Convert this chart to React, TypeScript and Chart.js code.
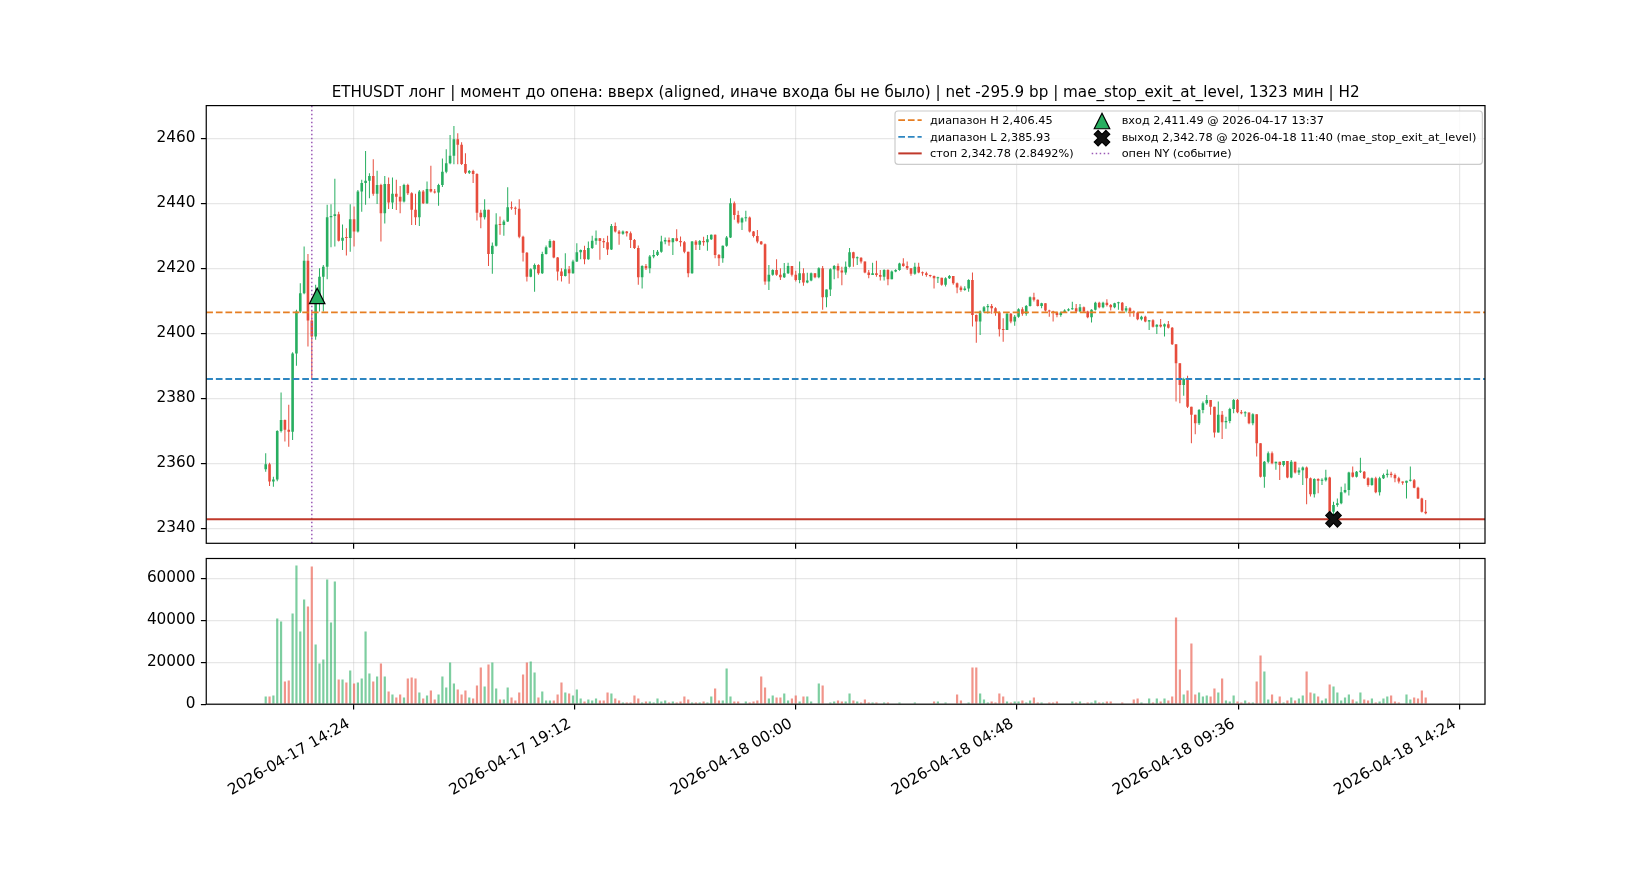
import React, { useRef, useEffect } from 'react'
import Chart from 'chart.js/auto'

// ETHUSDT 5m candles, first candle 2026-04-17 12:30, times in minutes from 2026-04-17 00:00
const START_MIN = 750
const STEP_MIN = 5
const FIRST_OPEN = 2358.2

const CLOSES = [
	2359.7, 2354.4, 2355.0, 2369.9, 2373.3, 2370.3, 2369.7, 2393.8, 2406.7, 2412.3,
	2422.3, 2403.9, 2399.0, 2409.2, 2417.4, 2420.5, 2435.7, 2436.1, 2436.6, 2428.5,
	2429.4, 2429.3, 2435.1, 2431.3, 2443.6, 2446.2, 2446.9, 2448.4, 2442.9, 2445.6,
	2436.9, 2445.9, 2440.2, 2442.9, 2442.0, 2440.5, 2445.6, 2443.1, 2438.0, 2435.7,
	2443.6, 2440.0, 2444.4, 2443.6, 2443.3, 2445.6, 2449.7, 2452.3, 2454.6, 2459.7,
	2458.0, 2452.1, 2449.4, 2449.9, 2449.0, 2437.1, 2435.7, 2438.0, 2424.4, 2426.9,
	2433.5, 2433.3, 2434.4, 2438.8, 2438.5, 2438.3, 2429.7, 2424.8, 2417.4, 2419.7,
	2421.0, 2418.5, 2424.4,
	2426.5, 2428.4, 2423.3, 2419.0, 2417.6, 2419.7, 2418.5, 2422.1, 2424.9, 2425.6,
	2422.8, 2426.2, 2428.5, 2429.2, 2428.4, 2428.0, 2425.8, 2433.0, 2431.3, 2430.6,
	2431.3, 2430.8, 2428.7, 2426.2, 2417.2, 2420.7, 2420.0, 2423.6, 2424.1, 2425.1,
	2428.2, 2428.7, 2428.0, 2429.2, 2428.4, 2428.0, 2425.1, 2418.5, 2428.2, 2427.2,
	2428.4, 2428.0, 2428.9, 2430.3, 2424.1, 2423.1, 2426.9, 2429.5, 2440.0, 2436.4,
	2434.1, 2435.4, 2435.6, 2431.3, 2429.9, 2428.2, 2427.4, 2415.9, 2418.0, 2419.5,
	2418.0, 2417.2, 2418.5, 2420.7, 2418.0, 2416.4, 2418.5, 2415.6, 2416.2, 2418.5,
	2417.2, 2420.0, 2411.1, 2413.5,
	2419.7, 2420.7, 2419.3, 2418.7, 2420.5, 2424.9, 2423.1, 2423.2, 2422.1, 2418.7,
	2417.9, 2418.5, 2417.9, 2417.4, 2419.5, 2416.6, 2419.0, 2419.5, 2421.5, 2420.7,
	2420.0, 2418.3, 2420.5, 2418.7, 2418.5, 2417.9, 2417.6, 2416.9, 2417.1, 2414.9,
	2416.9, 2417.6, 2415.4, 2414.1, 2413.3, 2413.8, 2416.4, 2405.6, 2403.6, 2406.7,
	2408.0, 2408.4, 2407.7, 2406.4, 2401.2, 2401.0, 2406.0, 2403.6, 2405.1, 2407.4,
	2406.0, 2408.4, 2411.1, 2410.3, 2408.4, 2409.2, 2407.0, 2406.7, 2406.4, 2405.6,
	2406.4, 2407.0, 2407.4, 2407.7, 2406.7, 2408.0, 2406.7, 2404.9, 2407.2, 2409.4,
	2408.0, 2409.4, 2408.7, 2408.0, 2409.2, 2409.4, 2407.0,
	2407.7, 2406.7, 2406.4, 2404.3, 2405.1, 2403.6, 2404.0, 2402.0, 2402.6, 2402.1,
	2402.8, 2401.7, 2396.6, 2390.8, 2384.1, 2385.9, 2377.4, 2374.9, 2372.3, 2376.4,
	2378.5, 2379.5, 2377.4, 2369.5, 2374.9, 2372.6, 2373.0, 2376.7, 2379.5, 2375.7,
	2375.4, 2375.6, 2372.3, 2375.1, 2366.2, 2355.9, 2360.5, 2363.1, 2360.0, 2360.5,
	2359.5, 2360.7, 2355.6, 2360.5, 2357.2, 2357.9, 2358.7, 2355.4, 2350.5, 2355.2,
	2354.6, 2354.8, 2355.6, 2345.1, 2347.2, 2347.7, 2351.1, 2351.8, 2357.2, 2355.9,
	2357.4, 2357.4, 2355.4, 2353.3, 2355.4, 2351.1, 2355.4, 2356.4, 2356.8, 2356.4,
	2355.4, 2354.4, 2354.0, 2354.6, 2354.8, 2352.5, 2349.2, 2345.1, 2344.6,
]

const HIGHS = [
	2363.1, 2360.2, 2355.9, 2370.2, 2381.8, 2373.5, 2378.0, 2394.2, 2407.2, 2415.4,
	2426.7, 2424.4, 2407.0, 2414.9, 2420.0, 2421.0, 2439.5, 2439.7, 2447.5, 2437.4,
	2433.5, 2432.3, 2439.7, 2439.0, 2444.1, 2447.2, 2456.1, 2449.2, 2453.5, 2450.0,
	2446.0, 2448.4, 2447.9, 2447.9, 2447.2, 2445.3, 2446.0, 2446.0, 2443.4, 2442.9,
	2444.1, 2444.1, 2446.7, 2451.5, 2444.4, 2446.0, 2453.8, 2456.6, 2461.0, 2463.8,
	2461.5, 2458.8, 2455.4, 2450.2, 2450.3, 2449.2, 2438.0, 2441.2, 2438.0, 2427.9,
	2436.9, 2435.9, 2434.9, 2444.9, 2440.5, 2439.0, 2441.2, 2430.0, 2425.0, 2420.0,
	2421.5, 2421.2, 2425.1,
	2427.0, 2428.9, 2428.6, 2423.5, 2420.0, 2424.6, 2420.7, 2422.6, 2427.7, 2425.8,
	2426.9, 2428.2, 2430.0, 2431.6, 2429.3, 2429.2, 2430.0, 2433.6, 2434.1, 2431.8,
	2431.6, 2431.5, 2431.3, 2429.0, 2427.0, 2420.9, 2421.3, 2424.1, 2425.6, 2425.6,
	2430.0, 2429.5, 2429.5, 2429.3, 2432.0, 2429.8, 2428.4, 2425.1, 2428.4, 2428.7,
	2428.7, 2429.7, 2430.2, 2430.4, 2430.4, 2424.4, 2427.0, 2429.9, 2441.5, 2440.5,
	2437.7, 2435.7, 2437.7, 2435.9, 2431.5, 2431.8, 2428.4, 2427.6, 2421.0, 2419.7,
	2422.8, 2420.0, 2421.6, 2421.7, 2420.7, 2419.2, 2422.1, 2420.0, 2418.6, 2418.7,
	2418.5, 2420.3, 2420.7, 2413.5,
	2420.0, 2421.0, 2421.5, 2420.5, 2422.1, 2426.2, 2425.1, 2423.6, 2423.4, 2422.1,
	2419.5, 2421.7, 2422.3, 2419.5, 2419.7, 2419.7, 2419.3, 2419.7, 2421.7, 2423.1,
	2422.1, 2420.0, 2421.7, 2421.7, 2419.0, 2418.9, 2418.0, 2417.8, 2417.4, 2417.1,
	2417.2, 2417.9, 2417.6, 2415.6, 2414.6, 2414.5, 2416.6, 2418.7, 2405.8, 2407.0,
	2408.4, 2409.0, 2409.0, 2408.0, 2406.7, 2404.6, 2406.2, 2406.2, 2405.6, 2407.7,
	2408.0, 2408.7, 2411.3, 2412.5, 2410.4, 2409.4, 2409.2, 2407.2, 2406.9, 2406.6,
	2406.7, 2407.4, 2407.7, 2409.7, 2409.0, 2409.0, 2408.2, 2406.9, 2407.4, 2409.7,
	2409.7, 2409.7, 2410.5, 2409.0, 2409.4, 2409.7, 2409.6,
	2408.4, 2408.0, 2407.0, 2406.6, 2405.4, 2405.4, 2404.1, 2404.3, 2402.8, 2404.4,
	2403.0, 2403.8, 2401.9, 2396.6, 2390.8, 2386.3, 2386.9, 2377.4, 2374.9, 2376.7,
	2379.0, 2381.0, 2379.5, 2377.4, 2379.0, 2376.1, 2374.3, 2377.1, 2379.8, 2379.8,
	2376.4, 2376.0, 2375.6, 2375.4, 2375.1, 2366.2, 2360.7, 2363.6, 2363.6, 2360.5,
	2360.5, 2360.7, 2360.7, 2361.0, 2360.2, 2358.7, 2359.0, 2359.0, 2355.6, 2355.4,
	2355.4, 2355.4, 2358.0, 2355.9, 2348.2, 2349.2, 2352.8, 2353.8, 2357.4, 2359.0,
	2357.6, 2361.7, 2357.6, 2355.7, 2355.6, 2355.9, 2355.9, 2356.9, 2358.1, 2357.4,
	2356.9, 2355.9, 2354.4, 2354.6, 2359.0, 2355.2, 2352.8, 2349.4, 2348.7,
]

const LOWS = [
	2357.4, 2353.0, 2352.8, 2354.5, 2369.5, 2366.7, 2365.1, 2367.2, 2390.0, 2406.2,
	2412.0, 2395.9, 2385.8, 2398.0, 2406.7, 2406.7, 2416.6, 2426.5, 2426.7, 2428.2,
	2425.6, 2423.9, 2425.1, 2426.7, 2431.0, 2437.4, 2439.5, 2441.5, 2442.3, 2439.8,
	2428.2, 2433.8, 2438.2, 2438.2, 2437.9, 2436.9, 2440.2, 2442.5, 2433.3, 2433.3,
	2433.0, 2439.8, 2439.8, 2443.3, 2443.0, 2439.2, 2445.0, 2449.2, 2452.0, 2452.0,
	2452.0, 2451.8, 2449.0, 2449.0, 2446.2, 2434.7, 2432.3, 2435.0, 2420.7, 2418.3,
	2426.7, 2430.3, 2430.0, 2434.2, 2438.0, 2436.5, 2429.2, 2422.1, 2415.9, 2417.2,
	2412.8, 2418.0, 2418.2,
	2424.2, 2426.2, 2423.1, 2416.2, 2415.9, 2417.5, 2415.2, 2418.3, 2421.9, 2422.8,
	2421.2, 2422.6, 2425.9, 2427.2, 2422.6, 2426.2, 2424.1, 2425.6, 2431.0, 2427.2,
	2430.3, 2429.8, 2426.2, 2425.9, 2414.9, 2413.8, 2419.5, 2418.5, 2423.1, 2423.8,
	2424.8, 2427.4, 2426.9, 2424.1, 2428.2, 2426.7, 2424.6, 2417.2, 2418.3, 2425.6,
	2425.6, 2426.9, 2425.4, 2428.7, 2423.1, 2420.7, 2421.7, 2426.6, 2429.3, 2434.9,
	2433.7, 2431.8, 2434.4, 2431.0, 2429.5, 2427.7, 2427.2, 2414.9, 2413.3, 2417.7,
	2417.7, 2416.4, 2417.0, 2418.2, 2417.5, 2415.9, 2415.4, 2414.6, 2415.4, 2416.0,
	2416.9, 2416.9, 2407.2, 2408.0,
	2411.5, 2416.6, 2416.9, 2414.8, 2418.0, 2420.2, 2420.5, 2421.0, 2421.5, 2418.5,
	2416.9, 2417.9, 2417.4, 2416.2, 2416.2, 2414.8, 2416.6, 2418.8, 2419.2, 2420.5,
	2419.5, 2417.7, 2418.0, 2418.5, 2417.7, 2417.4, 2417.2, 2413.8, 2415.5, 2414.6,
	2414.4, 2416.7, 2414.9, 2412.3, 2412.8, 2413.1, 2412.8, 2402.1, 2397.1, 2399.5,
	2406.2, 2406.1, 2406.0, 2405.4, 2399.0, 2397.4, 2401.0, 2403.1, 2402.3, 2404.8,
	2405.4, 2405.4, 2408.2, 2409.8, 2408.2, 2407.7, 2406.7, 2405.1, 2403.6, 2404.9,
	2405.1, 2406.2, 2406.8, 2407.2, 2406.4, 2406.5, 2406.4, 2404.6, 2403.3, 2407.0,
	2407.7, 2407.7, 2408.2, 2407.0, 2407.7, 2407.2, 2406.7,
	2406.4, 2405.1, 2405.1, 2404.0, 2403.9, 2403.4, 2401.0, 2401.8, 2399.8, 2401.8,
	2399.0, 2401.5, 2396.4, 2379.0, 2378.5, 2380.8, 2377.0, 2366.2, 2368.9, 2371.8,
	2375.4, 2378.0, 2374.9, 2367.9, 2369.5, 2367.5, 2370.6, 2372.3, 2375.4, 2375.4,
	2375.1, 2374.3, 2372.0, 2371.7, 2362.1, 2355.6, 2352.5, 2360.0, 2359.7, 2358.0,
	2354.9, 2359.0, 2355.4, 2355.4, 2356.9, 2356.4, 2353.3, 2347.4, 2349.8, 2349.5,
	2350.8, 2353.3, 2354.4, 2344.1, 2342.78, 2346.6, 2347.4, 2350.8, 2350.1, 2355.6,
	2355.6, 2357.0, 2355.2, 2352.8, 2353.1, 2350.8, 2350.1, 2355.2, 2355.6, 2355.6,
	2354.2, 2353.8, 2353.4, 2349.2, 2354.4, 2352.3, 2349.0, 2344.9, 2344.3,
]

const VOLUMES = [
	3650, 3650, 4130, 40790, 39360, 10790, 11270, 43170, 66020, 34600,
	49830, 46500, 65540, 28410, 19360, 21270, 59350, 38880, 58400, 11740,
	11740, 10320, 16030, 9840, 10320, 12220, 34600, 14600, 10790, 13170,
	19360, 13170, 6030, 4600, 3170, 4600, 3170, 12220, 12700, 12220,
	5550, 2700, 4130, 6510, 2220, 4600, 13170, 7940, 19840, 9840,
	6980, 4600, 6510, 3170, 2700, 8890, 17460, 8410, 18890, 19840,
	7460, 2220, 2220, 7940, 3170, 1750, 5550, 14120, 19840, 20310,
	15080, 3170, 6030, 1750, 1750, 1750, 4600, 10320, 5550, 5080,
	4130, 6980, 2700, 1270, 2220, 1750, 2700, 1750, 1750, 5550,
	5080, 2700, 1750, 790, 790, 790, 4130, 2700, 790,
	1270, 1270, 790, 2700, 1270, 1750, 790, 1270, 790, 1270,
	3650, 2220, 790, 790, 790, 1270, 790, 3650, 7460, 1750,
	1750, 16980, 3650, 1270, 1270, 320, 1270, 790, 1270, 1750,
	13170, 7940, 2700, 4130, 3170, 3170, 5080, 1750, 2700, 4130,
	1270, 3650, 3650, 1270, 320, 9840, 8890, 320, 790, 1270,
	1750, 1270, 1270, 5080, 1750, 1270, 790, 2220, 790, 790,
	790, 320, 790, 790, 320, 320, 790, 320, 320, 320,
	790, 320, 320, 320, 320, 1270, 1270, 320, 790, 320,
	320, 4600, 1750, 320, 790, 17460, 17460, 5080, 2220, 790,
	1270, 790, 5080, 3650, 1270, 790, 1270, 1270, 1750, 790,
	1750, 3170, 790, 790, 320, 790, 790, 1270, 320, 320,
	320, 1270, 790, 1270, 160, 790, 790, 1750, 790, 790,
	1270, 1270, 320, 320, 790, 320, 320, 2220, 2700, 790,
	320, 2700, 790, 2700, 1270, 2700, 1750, 3650, 41260, 16500,
	4600, 6510, 28880, 4600, 5550, 3650, 4130, 3650, 7460, 5550,
	12220, 1750, 1270, 4130, 1270, 790, 1750, 790, 790, 10790,
	23170, 15550, 2220, 4600, 1270, 3650, 790, 1750, 3170, 1750,
	2700, 4130, 15550, 5550, 5080, 3650, 1750, 2700, 9360, 8410,
	5550, 1750, 3170, 4600, 2220, 1270, 5550, 2220, 1750, 2700,
	790, 1270, 2700, 3650, 4130, 1270, 790, 320, 4600, 2220,
	3170, 2700, 6510, 3170,
]

const RANGE_HIGH = 2406.45
const RANGE_LOW = 2385.93
const STOP_PRICE = 2342.78
const ENTRY_MIN = 817 // 2026-04-17 13:37
const ENTRY_PRICE = 2411.49
const EXIT_MIN = 2140 // 2026-04-18 11:40
const EXIT_PRICE = 2342.78
const NY_OPEN_MIN = 810 // 13:30

const X_TICKS = [864, 1152, 1440, 1728, 2016, 2304]
const PRICE_TICKS = [2340, 2360, 2380, 2400, 2420, 2440, 2460]
const VOLUME_TICKS = [0, 20000, 40000, 60000]

const TITLE =
	'ETHUSDT лонг | момент до опена: вверх (aligned, иначе входа бы не было) | net -295.9 bp | mae_stop_exit_at_level, 1323 мин | H2'
const LEGEND_LEFT = ['диапазон H 2,406.45', 'диапазон L 2,385.93', 'стоп 2,342.78 (2.8492%)']
const LEGEND_RIGHT = [
	'вход 2,411.49 @ 2026-04-17 13:37',
	'выход 2,342.78 @ 2026-04-18 11:40 (mae_stop_exit_at_level)',
	'опен NY (событие)',
]

// view limits
const X_MIN = 672.6
const X_MAX = 2337.2
const PRICE_MIN = 2335.39
const PRICE_MAX = 2470.04
const VOLUME_MAX = 69400

const GREEN = '#27ae60'
const RED = '#e74c3c'
const GREEN_VOL = 'rgba(39,174,96,0.6)'
const RED_VOL = 'rgba(231,76,60,0.6)'
const ORANGE = '#e67e22'
const BLUE = '#2e86c1'
const STOP_RED = '#c0392b'
const PURPLE = '#9b59b6'
const GRID = 'rgba(176,176,176,0.3)'
const FONT = 'DejaVu Sans'
const TICK_SIZE = 15.3
const LEGEND_SIZE = 11.3
const DASHED = [6.7, 2.9]
const DOTTED = [1.5, 2.5]

Chart.defaults.font.family = FONT

const fmtTime = (m: number) => {
	const day = 17 + Math.floor(m / 1440)
	const mins = m % 1440
	const hh = String(Math.floor(mins / 60)).padStart(2, '0')
	const mm = String(Math.round(mins % 60)).padStart(2, '0')
	return `2026-04-${day} ${hh}:${mm}`
}

const drawTriangle = (ctx: CanvasRenderingContext2D, cx: number, cy: number, size: number) => {
	const h = size / 2
	ctx.save()
	ctx.beginPath()
	ctx.moveTo(cx, cy - h)
	ctx.lineTo(cx + h, cy + h)
	ctx.lineTo(cx - h, cy + h)
	ctx.closePath()
	ctx.fillStyle = GREEN
	ctx.fill()
	ctx.lineWidth = 1.2
	ctx.strokeStyle = '#000'
	ctx.lineJoin = 'miter'
	ctx.stroke()
	ctx.restore()
}

const drawCross = (ctx: CanvasRenderingContext2D, cx: number, cy: number, size: number) => {
	const pts = [
		[-1, -2], [0, -1], [1, -2], [2, -1], [1, 0], [2, 1],
		[1, 2], [0, 1], [-1, 2], [-2, 1], [-1, 0], [-2, -1],
	]
	const k = size / 4
	ctx.save()
	ctx.beginPath()
	pts.forEach(([px, py], i) => {
		if (i === 0) ctx.moveTo(cx + px * k, cy + py * k)
		else ctx.lineTo(cx + px * k, cy + py * k)
	})
	ctx.closePath()
	ctx.fillStyle = '#111'
	ctx.fill()
	ctx.lineWidth = 1.2
	ctx.strokeStyle = '#000'
	ctx.stroke()
	ctx.restore()
}

const drawLine = (
	ctx: CanvasRenderingContext2D,
	x1: number,
	x2: number,
	y: number,
	color: string,
	width: number,
	dash: number[],
) => {
	ctx.save()
	ctx.beginPath()
	ctx.setLineDash(dash)
	ctx.strokeStyle = color
	ctx.lineWidth = width
	ctx.moveTo(x1, y)
	ctx.lineTo(x2, y)
	ctx.stroke()
	ctx.restore()
}

const framePlugin = {
	id: 'frame',
	afterDraw(chart: any) {
		const { ctx, chartArea: a } = chart
		ctx.save()
		ctx.strokeStyle = '#000'
		ctx.lineWidth = 1.2
		ctx.strokeRect(a.left, a.top, a.right - a.left, a.bottom - a.top)
		ctx.restore()
	},
}

const overlayPlugin = {
	id: 'overlay',
	afterDraw(chart: any) {
		const { ctx, chartArea: a } = chart
		const xs = chart.scales.x
		const ys = chart.scales.y

		// entry / exit markers
		drawTriangle(ctx, xs.getPixelForValue(ENTRY_MIN), ys.getPixelForValue(ENTRY_PRICE), 15.5)
		drawCross(ctx, xs.getPixelForValue(EXIT_MIN), ys.getPixelForValue(EXIT_PRICE), 15.5)

		// title
		ctx.save()
		ctx.fillStyle = '#000'
		ctx.font = `15.2px "${FONT}"`
		ctx.textAlign = 'center'
		ctx.textBaseline = 'alphabetic'
		ctx.fillText(TITLE, (a.left + a.right) / 2, 96.5)
		ctx.restore()

		// legend
		ctx.save()
		ctx.font = `${LEGEND_SIZE}px "${FONT}"`
		const textL = 930
		const textR = 1121.7
		const rightWidth = Math.max(...LEGEND_RIGHT.map(t => ctx.measureText(t).width))
		const boxL = 895
		const boxT = 111
		const boxR = Math.max(1479.5, textR + rightWidth + 6)
		const boxB = 164.3
		ctx.beginPath()
		ctx.roundRect(boxL, boxT, boxR - boxL, boxB - boxT, 3)
		ctx.fillStyle = 'rgba(255,255,255,0.8)'
		ctx.fill()
		ctx.strokeStyle = '#cccccc'
		ctx.lineWidth = 1.2
		ctx.stroke()

		const baselines = [124.3, 140.8, 157.3]
		const mids = [120.2, 136.9, 153.4]
		drawLine(ctx, 898.3, 921.7, mids[0], ORANGE, 1.8, DASHED)
		drawLine(ctx, 898.3, 921.7, mids[1], BLUE, 1.8, DASHED)
		drawLine(ctx, 898.3, 921.7, mids[2], STOP_RED, 2, [])
		drawTriangle(ctx, 1102, 121, 15.5)
		drawCross(ctx, 1102, 138.2, 15.5)
		drawLine(ctx, 1091.7, 1111, mids[2], PURPLE, 1.5, DOTTED)

		ctx.fillStyle = '#000'
		ctx.textAlign = 'left'
		ctx.textBaseline = 'alphabetic'
		LEGEND_LEFT.forEach((t, i) => ctx.fillText(t, textL, baselines[i]))
		LEGEND_RIGHT.forEach((t, i) => ctx.fillText(t, textR, baselines[i]))
		ctx.restore()
	},
}

const noPadding = (s: any) => {
	s.paddingTop = 0
	s.paddingBottom = 0
	s.paddingLeft = 0
	s.paddingRight = 0
}

const xScale = (showLabels: boolean, height: number) => ({
	type: 'linear',
	min: X_MIN,
	max: X_MAX,
	offset: false,
	afterBuildTicks: (s: any) => {
		s.ticks = X_TICKS.map(v => ({ value: v }))
	},
	afterFit: (s: any) => {
		s.height = height
		noPadding(s)
	},
	grid: {
		color: GRID,
		lineWidth: 1.2,
		offset: false,
		drawTicks: true,
		tickLength: 5.35,
		tickColor: '#000',
		tickWidth: 1.2,
	},
	border: { display: false },
	ticks: {
		display: showLabels,
		autoSkip: false,
		minRotation: 30,
		maxRotation: 30,
		padding: 5.35,
		labelOffset: -4.5,
		color: '#000',
		font: { size: TICK_SIZE },
		callback: (v: number) => fmtTime(v),
	},
})

const yScale = (min: number, max: number, ticks: number[]) => ({
	type: 'linear',
	position: 'left',
	min,
	max,
	afterBuildTicks: (s: any) => {
		s.ticks = ticks.map(v => ({ value: v }))
	},
	afterFit: (s: any) => {
		s.width = 206.25
		noPadding(s)
	},
	grid: {
		color: GRID,
		lineWidth: 1.2,
		drawTicks: true,
		tickLength: 5.35,
		tickColor: '#000',
		tickWidth: 1.2,
	},
	border: { display: false },
	ticks: {
		autoSkip: false,
		padding: 5.35,
		color: '#000',
		font: { size: TICK_SIZE },
		callback: (v: number) => String(v),
	},
})

const App: React.FC = () => {
	const priceRef = useRef<HTMLCanvasElement | null>(null)
	const volumeRef = useRef<HTMLCanvasElement | null>(null)

	useEffect(() => {
		if (!priceRef.current || !volumeRef.current) return

		const times = CLOSES.map((_, i) => START_MIN + i * STEP_MIN)
		// contiguous 5m candles: each open is the previous close
		const opens = CLOSES.map((_, i) => (i === 0 ? FIRST_OPEN : CLOSES[i - 1]))
		const up = CLOSES.map((c, i) => c >= opens[i])

		const bodies = CLOSES.map((c, i) => ({
			x: times[i],
			y: [Math.min(opens[i], c), Math.max(opens[i], c)],
		}))
		const wicks = CLOSES.map((c, i) => ({
			x: times[i],
			y: [Math.min(LOWS[i], opens[i], c), Math.max(HIGHS[i], opens[i], c)],
		}))
		const colors = up.map(u => (u ? GREEN : RED))

		const hLine = (y: number) => [
			{ x: X_MIN, y },
			{ x: X_MAX, y },
		]
		const lineDs = (data: any[], color: string, width: number, dash: number[]) => ({
			type: 'line',
			data,
			borderColor: color,
			borderWidth: width,
			borderDash: dash,
			pointRadius: 0,
			fill: false,
			tension: 0,
			order: 0,
		})

		const priceChart = new Chart(priceRef.current, {
			type: 'bar',
			data: {
				datasets: [
					lineDs(hLine(RANGE_HIGH), ORANGE, 1.8, DASHED),
					lineDs(hLine(RANGE_LOW), BLUE, 1.8, DASHED),
					lineDs(hLine(STOP_PRICE), STOP_RED, 2, []),
					lineDs(
						[
							{ x: NY_OPEN_MIN, y: PRICE_MIN },
							{ x: NY_OPEN_MIN, y: PRICE_MAX },
						],
						PURPLE,
						1.5,
						DOTTED,
					),
					{
						type: 'bar',
						data: bodies,
						backgroundColor: colors,
						barThickness: 2.6,
						minBarLength: 1,
						grouped: false,
						inflateAmount: 0,
						borderWidth: 0,
						order: 1,
					},
					{
						type: 'bar',
						data: wicks,
						backgroundColor: colors,
						barThickness: 1,
						grouped: false,
						inflateAmount: 0,
						borderWidth: 0,
						order: 2,
					},
				],
			},
			options: {
				animation: false,
				responsive: false,
				events: [],
				layout: { padding: { left: 0, right: 165, top: 105.6, bottom: 0 } },
				plugins: { legend: { display: false }, tooltip: { enabled: false } },
				scales: {
					x: xScale(false, 6.7),
					y: yScale(PRICE_MIN, PRICE_MAX, PRICE_TICKS),
				},
			} as any,
			plugins: [framePlugin, overlayPlugin],
		} as any)

		const volumeChart = new Chart(volumeRef.current, {
			type: 'bar',
			data: {
				datasets: [
					{
						data: VOLUMES.map((v, i) => ({ x: times[i], y: v })),
						backgroundColor: up.map(u => (u ? GREEN_VOL : RED_VOL)),
						barThickness: 2.2,
						grouped: false,
						inflateAmount: 0,
						borderWidth: 0,
					},
				],
			},
			options: {
				animation: false,
				responsive: false,
				events: [],
				layout: { padding: { left: 0, right: 165, top: 8.5, bottom: 0 } },
				plugins: { legend: { display: false }, tooltip: { enabled: false } },
				scales: {
					x: xScale(true, 175.8),
					y: yScale(0, VOLUME_MAX, VOLUME_TICKS),
				},
			} as any,
			plugins: [framePlugin],
		} as any)

		return () => {
			priceChart.destroy()
			volumeChart.destroy()
		}
	}, [])

	return (
		<div style={{ position: 'absolute', left: 0, top: 0, width: 1650, height: 880, background: '#fff' }}>
			<canvas ref={priceRef} width={1650} height={550} style={{ position: 'absolute', left: 0, top: 0 }} />
			<canvas ref={volumeRef} width={1650} height={330} style={{ position: 'absolute', left: 0, top: 550 }} />
		</div>
	)
}

export default App
